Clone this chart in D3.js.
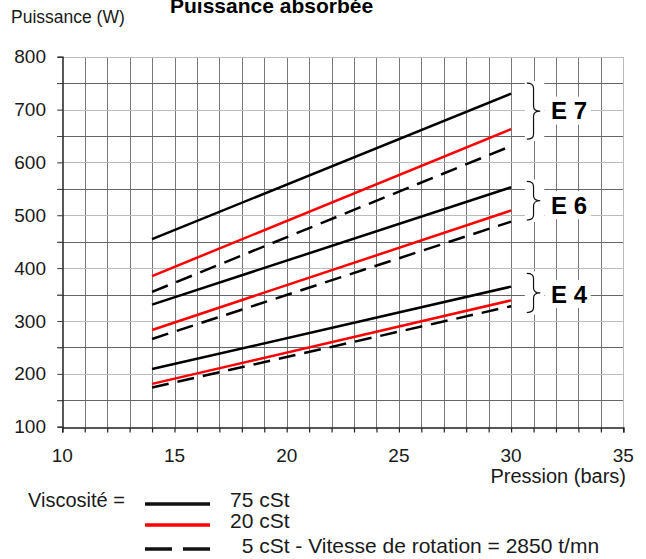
<!DOCTYPE html>
<html>
<head>
<meta charset="utf-8">
<script src="https://cdn.jsdelivr.net/npm/d3@7"></script>
<style>
  body { margin: 0; background: #fff; }
  svg { font-family: "Liberation Sans", Arial, sans-serif; }
  .grid line { shape-rendering: crispEdges; }
</style>
</head>
<body>
<svg width="646" height="559"></svg>
<script>
// pressure range of every curve (bars)
const pression = [14, 30];

// power (W) at 14 and 30 bars, per pump and viscosity
const e7_75 = [455, 730];
const e7_20 = [385, 663];
const e7_5 = [355, 631];
const e6_75 = [331, 553];
const e6_20 = [283, 509];
const e6_5 = [266, 488];
const e4_75 = [209, 365];
const e4_20 = [181, 339];
const e4_5 = [174, 328];

// brace annotations: label, brace top / bottom (W), label level (W)
const pumps = ["E 7", "E 6", "E 4"];
const braceTop = [750, 564, 390];
const braceBottom = [644, 491, 316];
const labelLevel = [698, 519, 351];

const xTicks = [10, 15, 20, 25, 30, 35];
const yTicks = [100, 200, 300, 400, 500, 600, 700, 800];

const legendLabels = ["75 cSt", "20 cSt", "  5 cSt - Vitesse de rotation = 2850 t/mn"];

const svg = d3.select("svg");

const x = d3.scaleLinear().domain([10, 35]).range([62.3, 623.3]);
const y = d3.scaleLinear().domain([100, 800]).range([426.7, 56.7]);

// grid
const grid = svg.append("g").attr("class", "grid");
grid.selectAll("line.v")
  .data(d3.range(11, 36))
  .enter()
  .append("line")
  .attr("x1", d => Math.round(x(d)) + 0.5)
  .attr("x2", d => Math.round(x(d)) + 0.5)
  .attr("y1", y(800))
  .attr("y2", y(100))
  .attr("stroke", d => d === 35 ? "#bbb" : "#777")
  .attr("stroke-width", 1);

grid.selectAll("line.h")
  .data(d3.range(150, 801, 50))
  .enter()
  .append("line")
  .attr("x1", x(10) - 5)
  .attr("x2", x(35))
  .attr("y1", d => Math.round(y(d)) + 0.5)
  .attr("y2", d => Math.round(y(d)) + 0.5)
  .attr("stroke", d => d % 100 === 0 ? "#bbb" : "#666")
  .attr("stroke-width", 1);

// axes
const xAxis = svg.append("g")
  .attr("transform", `translate(0,${Math.round(y(100)) + 0.5})`)
  .call(d3.axisBottom(x).ticks(25).tickSize(5).tickFormat(""));
xAxis.select(".domain").attr("stroke", "#222").attr("stroke-width", 1.5);
xAxis.selectAll(".tick line").attr("stroke", "#222").attr("stroke-width", 1.2);

const yAxis = svg.append("g")
  .attr("transform", `translate(${Math.round(x(10)) + 0.5},0)`)
  .call(d3.axisLeft(y).ticks(14).tickSize(5).tickFormat(""));
yAxis.select(".domain").attr("stroke", "#222").attr("stroke-width", 1.5);
yAxis.selectAll(".tick line").attr("stroke", "#444");

svg.append("g").selectAll("text")
  .data(xTicks)
  .enter()
  .append("text")
  .attr("x", d => x(d))
  .attr("y", 462)
  .attr("text-anchor", "middle")
  .attr("font-size", 19)
  .attr("fill", "#1a1a1a")
  .text(d => d);

svg.append("g").selectAll("text")
  .data(yTicks)
  .enter()
  .append("text")
  .attr("x", 46)
  .attr("y", d => y(d))
  .attr("dy", "0.35em")
  .attr("text-anchor", "end")
  .attr("font-size", 19)
  .attr("fill", "#1a1a1a")
  .text(d => d);

// curves
const curves = [
  { v: e7_75, color: "#000", dash: null },
  { v: e7_20, color: "#ff0000", dash: null },
  { v: e7_5, color: "#000", dash: "17,9" },
  { v: e6_75, color: "#000", dash: null },
  { v: e6_20, color: "#ff0000", dash: null },
  { v: e6_5, color: "#000", dash: "17,9" },
  { v: e4_75, color: "#000", dash: null },
  { v: e4_20, color: "#ff0000", dash: null },
  { v: e4_5, color: "#000", dash: "17,9" }
];

const line = d3.line()
  .x((d, i) => x(pression[i]))
  .y(d => y(d));

svg.append("g").selectAll("path")
  .data(curves)
  .enter()
  .append("path")
  .attr("d", d => line(d.v))
  .attr("fill", "none")
  .attr("stroke", d => d.color)
  .attr("stroke-width", 2.5)
  .attr("stroke-dasharray", d => d.dash);

// braces + pump labels
function bracePath(x0, x1, y0, y1, ym) {
  const xm = (x0 + x1) / 2;
  const q = 5;
  return `M${x0},${y0} Q${xm},${y0} ${xm},${y0 + q} L${xm},${ym - q} Q${xm},${ym} ${x1},${ym}` +
    ` Q${xm},${ym} ${xm},${ym + q} L${xm},${y1 - q} Q${xm},${y1} ${x0},${y1}`;
}

const ann = svg.append("g");
pumps.forEach(function (p, i) {
  const y0 = y(braceTop[i]);
  const y1 = y(braceBottom[i]);
  const ym = (y0 + y1) / 2;
  const x0 = x(30.7);
  const x1 = x(31.3);
  ann.append("rect")
    .attr("x", x0 - 2)
    .attr("y", y0 - 2)
    .attr("width", x1 - x0 + 6)
    .attr("height", y1 - y0 + 4)
    .attr("fill", "#fff");
  ann.append("rect")
    .attr("x", x(31.5))
    .attr("y", y(labelLevel[i]) - 14)
    .attr("width", 46)
    .attr("height", 28)
    .attr("fill", "#fff");
  ann.append("path")
    .attr("d", bracePath(x0, x1, y0, y1, ym))
    .attr("fill", "none")
    .attr("stroke", "#111")
    .attr("stroke-width", 1.2);
  ann.append("text")
    .attr("x", x(31.78))
    .attr("y", y(labelLevel[i]))
    .attr("dy", "0.36em")
    .attr("font-size", 24)
    .attr("font-weight", "bold")
    .attr("fill", "#000")
    .attr("xml:space", "preserve")
    .text(p);
});

// titles
svg.append("text")
  .attr("x", 170)
  .attr("y", 13)
  .attr("font-size", 21)
  .attr("font-weight", "bold")
  .attr("fill", "#000")
  .text("Puissance absorbée");

svg.append("text")
  .attr("x", 11)
  .attr("y", 23)
  .attr("font-size", 17.5)
  .attr("fill", "#1a1a1a")
  .text("Puissance (W)");

svg.append("text")
  .attr("x", 626)
  .attr("y", 483)
  .attr("text-anchor", "end")
  .attr("font-size", 20)
  .attr("fill", "#1a1a1a")
  .text("Pression (bars)");

// legend
const legend = svg.append("g");
legend.append("text")
  .attr("x", 28)
  .attr("y", 507)
  .attr("font-size", 20)
  .attr("fill", "#1a1a1a")
  .text("Viscosité =");

const legendY = [504, 525, 549];
const legendBase = [507, 528, 553];
legendLabels.forEach(function (t, i) {
  legend.append("line")
    .attr("x1", 145)
    .attr("x2", 210)
    .attr("y1", legendY[i])
    .attr("y2", legendY[i])
    .attr("stroke", curves[i].color === "#ff0000" ? "#ff0000" : "#111")
    .attr("stroke-width", 3.5)
    .attr("stroke-dasharray", i === 2 ? "27,11" : null);
  legend.append("text")
    .attr("x", 230)
    .attr("y", legendBase[i])
    .attr("font-size", 21)
    .attr("fill", "#1a1a1a")
    .attr("xml:space", "preserve")
    .text(t);
});
</script>
</body>
</html>
